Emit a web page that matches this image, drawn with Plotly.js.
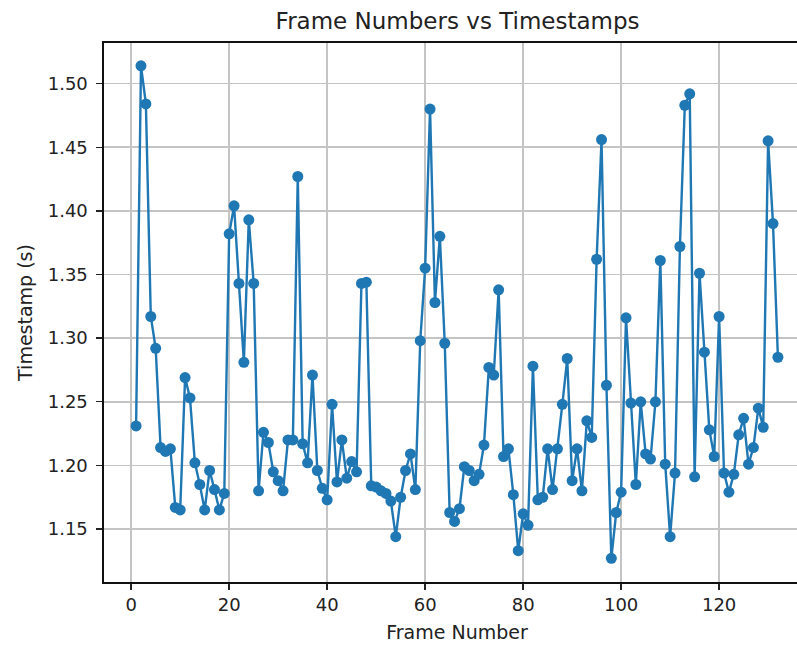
<!DOCTYPE html>
<html>
<head>
<meta charset="utf-8">
<script src="https://cdn.plot.ly/plotly-3.0.1.min.js"></script>
<style>
  html, body { margin: 0; padding: 0; overflow: hidden; background: #fff; }
  #chart { width: 830px; height: 645px; }
</style>
</head>
<body>
<div id="chart"></div>
<script>
// Frame numbers 1..132
const frameNumbers = [];
for (let i = 1; i <= 132; i++) frameNumbers.push(i);

// Timestamps (s)
const timestamps = [
  1.231, 1.514, 1.484, 1.317, 1.292, 1.214, 1.211, 1.213, 1.167, 1.165,
  1.269, 1.253, 1.202, 1.185, 1.165, 1.196, 1.181, 1.165, 1.178, 1.382,
  1.404, 1.343, 1.281, 1.393, 1.343, 1.180, 1.226, 1.218, 1.195, 1.188,
  1.180, 1.220, 1.220, 1.427, 1.217, 1.202, 1.271, 1.196, 1.182, 1.173,
  1.248, 1.187, 1.220, 1.190, 1.203, 1.195, 1.343, 1.344, 1.184, 1.183,
  1.180, 1.178, 1.172, 1.144, 1.175, 1.196, 1.209, 1.181, 1.298, 1.355,
  1.480, 1.328, 1.380, 1.296, 1.163, 1.156, 1.166, 1.199, 1.196, 1.188,
  1.193, 1.216, 1.277, 1.271, 1.338, 1.207, 1.213, 1.177, 1.133, 1.162,
  1.153, 1.278, 1.173, 1.175, 1.213, 1.181, 1.213, 1.248, 1.284, 1.188,
  1.213, 1.180, 1.235, 1.222, 1.362, 1.456, 1.263, 1.127, 1.163, 1.179,
  1.316, 1.249, 1.185, 1.250, 1.209, 1.205, 1.250, 1.361, 1.201, 1.144,
  1.194, 1.372, 1.483, 1.492, 1.191, 1.351, 1.289, 1.228, 1.207, 1.317,
  1.194, 1.179, 1.193, 1.224, 1.237, 1.201, 1.214, 1.245, 1.230, 1.455,
  1.390, 1.285
];

const xTickVals = [0, 20, 40, 60, 80, 100, 120];
const yTickVals = [1.15, 1.20, 1.25, 1.30, 1.35, 1.40, 1.45, 1.50];

const trace = {
  x: frameNumbers,
  y: timestamps,
  type: 'scatter',
  mode: 'lines+markers',
  line: { color: '#1f77b4', width: 2.4 },
  marker: { color: '#1f77b4', size: 11 },
  hoverinfo: 'skip'
};

const font = "'DejaVu Sans', sans-serif";

const layout = {
  width: 830,
  height: 645,
  margin: { l: 104, r: 20, t: 43, b: 63 },
  paper_bgcolor: '#ffffff',
  plot_bgcolor: '#ffffff',
  showlegend: false,
  font: { family: font, color: '#222222', size: 18 },
  title: {
    text: 'Frame Numbers vs Timestamps',
    font: { family: font, size: 23, color: '#222222' },
    x: 0.5513, xanchor: 'center',
    y: 0.967, yanchor: 'middle'
  },
  xaxis: {
    range: [-5.55, 138.55],
    tickvals: xTickVals,
    ticktext: xTickVals.map(String),
    showgrid: true,
    gridcolor: '#c4c4c4',
    gridwidth: 1.5,
    zeroline: false,
    showline: true,
    linecolor: '#111111',
    linewidth: 1.6,
    mirror: true,
    ticks: 'outside',
    ticklen: 6,
    tickwidth: 1.4,
    tickcolor: '#222222',
    tickfont: { family: font, size: 18, color: '#222222' },
    title: {
      text: 'Frame Number',
      font: { family: font, size: 19, color: '#222222' },
      standoff: 11
    }
  },
  yaxis: {
    range: [1.1084, 1.5319],
    tickvals: yTickVals,
    ticktext: yTickVals.map(v => v.toFixed(2)),
    showgrid: true,
    gridcolor: '#c4c4c4',
    gridwidth: 1.5,
    zeroline: false,
    showline: true,
    linecolor: '#111111',
    linewidth: 1.6,
    mirror: true,
    ticks: 'outside',
    ticklen: 6,
    tickwidth: 1.4,
    tickcolor: '#222222',
    ticklabelstandoff: 5,
    tickfont: { family: font, size: 18, color: '#222222' },
    title: {
      text: 'Timestamp (s)',
      font: { family: font, size: 19, color: '#222222' },
      standoff: 10
    }
  }
};

Plotly.newPlot('chart', [trace], layout, { displayModeBar: false, staticPlot: true });
</script>
</body>
</html>
